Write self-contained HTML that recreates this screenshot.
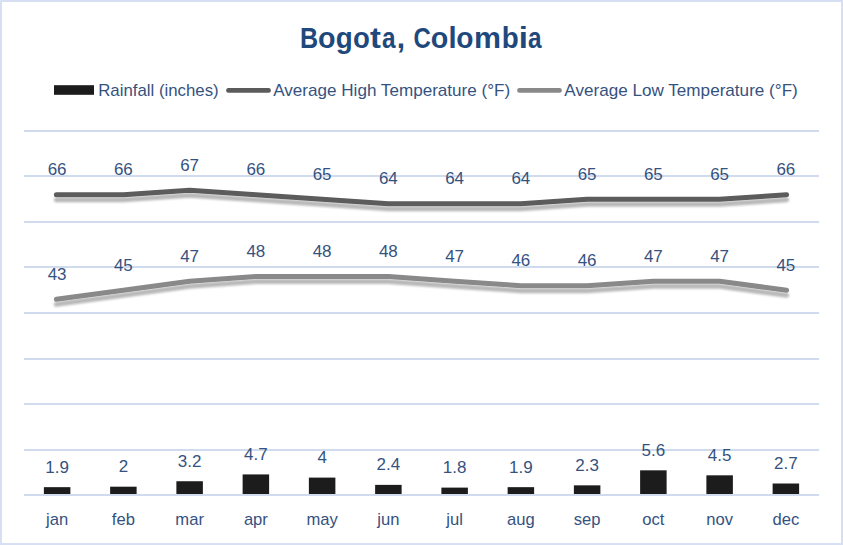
<!DOCTYPE html>
<html><head><meta charset="utf-8"><style>
html,body{margin:0;padding:0;background:#fff;}
body{width:843px;height:545px;overflow:hidden;}
svg{display:block;font-family:"Liberation Sans",sans-serif;}
</style></head><body>
<svg width="843" height="545" viewBox="0 0 843 545">
<defs><filter id="sh" x="-10%" y="-50%" width="120%" height="300%">
<feDropShadow dx="0" dy="5" stdDeviation="1.3" flood-color="#000" flood-opacity="0.28"/></filter></defs>
<rect x="1" y="1" width="841" height="543" fill="#fff" stroke="#d6e0f2" stroke-width="2"/>
<g font-size="16.6" fill="#35527f">
<rect x="24.0" y="130" width="795.0" height="2" fill="#d0dced"/>
<rect x="24.0" y="175" width="795.0" height="2" fill="#d0dced"/>
<rect x="24.0" y="221" width="795.0" height="2" fill="#d0dced"/>
<rect x="24.0" y="266" width="795.0" height="2" fill="#d0dced"/>
<rect x="24.0" y="312" width="795.0" height="2" fill="#d0dced"/>
<rect x="24.0" y="358" width="795.0" height="2" fill="#d0dced"/>
<rect x="24.0" y="403" width="795.0" height="2" fill="#d0dced"/>
<rect x="24.0" y="449" width="795.0" height="2" fill="#d0dced"/>
<rect x="24.0" y="494" width="795.0" height="2" fill="#d0dced"/>
<rect x="43.88" y="487.16" width="26.50" height="6.84" fill="#1c1c1c"/>
<rect x="110.12" y="486.70" width="26.50" height="7.30" fill="#1c1c1c"/>
<rect x="176.38" y="481.24" width="26.50" height="12.76" fill="#1c1c1c"/>
<rect x="242.62" y="474.42" width="26.50" height="19.58" fill="#1c1c1c"/>
<rect x="308.88" y="477.60" width="26.50" height="16.40" fill="#1c1c1c"/>
<rect x="375.12" y="484.88" width="26.50" height="9.12" fill="#1c1c1c"/>
<rect x="441.38" y="487.61" width="26.50" height="6.39" fill="#1c1c1c"/>
<rect x="507.62" y="487.16" width="26.50" height="6.84" fill="#1c1c1c"/>
<rect x="573.88" y="485.34" width="26.50" height="8.66" fill="#1c1c1c"/>
<rect x="640.12" y="470.32" width="26.50" height="23.68" fill="#1c1c1c"/>
<rect x="706.38" y="475.32" width="26.50" height="18.68" fill="#1c1c1c"/>
<rect x="772.62" y="483.51" width="26.50" height="10.49" fill="#1c1c1c"/>
<polyline points="56.38,194.70 123.38,194.70 189.62,190.15 255.88,194.70 322.12,199.25 388.38,203.80 454.62,203.80 520.88,203.80 587.12,199.25 653.38,199.25 719.62,199.25 786.62,194.70" fill="none" stroke="#5b5b5b" stroke-width="5" stroke-linejoin="round" stroke-linecap="round" filter="url(#sh)"/>
<polyline points="56.38,299.35 123.38,290.25 189.62,281.15 255.88,276.60 322.12,276.60 388.38,276.60 454.62,281.15 520.88,285.70 587.12,285.70 653.38,281.15 719.62,281.15 786.62,290.25" fill="none" stroke="#898989" stroke-width="5" stroke-linejoin="round" stroke-linecap="round" filter="url(#sh)"/>
<text x="57.12" y="175.10" text-anchor="middle" font-size="17">66</text>
<text x="123.38" y="175.10" text-anchor="middle" font-size="17">66</text>
<text x="189.62" y="170.55" text-anchor="middle" font-size="17">67</text>
<text x="255.88" y="175.10" text-anchor="middle" font-size="17">66</text>
<text x="322.12" y="179.65" text-anchor="middle" font-size="17">65</text>
<text x="388.38" y="184.20" text-anchor="middle" font-size="17">64</text>
<text x="454.62" y="184.20" text-anchor="middle" font-size="17">64</text>
<text x="520.88" y="184.20" text-anchor="middle" font-size="17">64</text>
<text x="587.12" y="179.65" text-anchor="middle" font-size="17">65</text>
<text x="653.38" y="179.65" text-anchor="middle" font-size="17">65</text>
<text x="719.62" y="179.65" text-anchor="middle" font-size="17">65</text>
<text x="785.88" y="175.10" text-anchor="middle" font-size="17">66</text>
<text x="57.12" y="279.75" text-anchor="middle" font-size="17">43</text>
<text x="123.38" y="270.65" text-anchor="middle" font-size="17">45</text>
<text x="189.62" y="261.55" text-anchor="middle" font-size="17">47</text>
<text x="255.88" y="257.00" text-anchor="middle" font-size="17">48</text>
<text x="322.12" y="257.00" text-anchor="middle" font-size="17">48</text>
<text x="388.38" y="257.00" text-anchor="middle" font-size="17">48</text>
<text x="454.62" y="261.55" text-anchor="middle" font-size="17">47</text>
<text x="520.88" y="266.10" text-anchor="middle" font-size="17">46</text>
<text x="587.12" y="266.10" text-anchor="middle" font-size="17">46</text>
<text x="653.38" y="261.55" text-anchor="middle" font-size="17">47</text>
<text x="719.62" y="261.55" text-anchor="middle" font-size="17">47</text>
<text x="785.88" y="270.65" text-anchor="middle" font-size="17">45</text>
<text x="57.12" y="472.66" text-anchor="middle" font-size="17">1.9</text>
<text x="123.38" y="472.20" text-anchor="middle" font-size="17">2</text>
<text x="189.62" y="466.74" text-anchor="middle" font-size="17">3.2</text>
<text x="255.88" y="459.92" text-anchor="middle" font-size="17">4.7</text>
<text x="322.12" y="463.10" text-anchor="middle" font-size="17">4</text>
<text x="388.38" y="470.38" text-anchor="middle" font-size="17">2.4</text>
<text x="454.62" y="473.11" text-anchor="middle" font-size="17">1.8</text>
<text x="520.88" y="472.66" text-anchor="middle" font-size="17">1.9</text>
<text x="587.12" y="470.84" text-anchor="middle" font-size="17">2.3</text>
<text x="653.38" y="455.82" text-anchor="middle" font-size="17">5.6</text>
<text x="719.62" y="460.82" text-anchor="middle" font-size="17">4.5</text>
<text x="785.88" y="469.01" text-anchor="middle" font-size="17">2.7</text>
<text x="57.12" y="525" text-anchor="middle">jan</text>
<text x="123.38" y="525" text-anchor="middle">feb</text>
<text x="189.62" y="525" text-anchor="middle">mar</text>
<text x="255.88" y="525" text-anchor="middle">apr</text>
<text x="322.12" y="525" text-anchor="middle">may</text>
<text x="388.38" y="525" text-anchor="middle">jun</text>
<text x="454.62" y="525" text-anchor="middle">jul</text>
<text x="520.88" y="525" text-anchor="middle">aug</text>
<text x="587.12" y="525" text-anchor="middle">sep</text>
<text x="653.38" y="525" text-anchor="middle">oct</text>
<text x="719.62" y="525" text-anchor="middle">nov</text>
<text x="785.88" y="525" text-anchor="middle">dec</text>
<rect x="54" y="85.2" width="40" height="9.6" fill="#1c1c1c"/>
<text x="98.2" y="95.5" textLength="120.5" lengthAdjust="spacingAndGlyphs">Rainfall (inches)</text>
<line x1="228.5" y1="90.4" x2="268.5" y2="90.4" stroke="#5b5b5b" stroke-width="4.8" stroke-linecap="round"/>
<text x="273.2" y="95.5" textLength="237" lengthAdjust="spacingAndGlyphs">Average High Temperature (°F)</text>
<line x1="519.5" y1="90.4" x2="559.5" y2="90.4" stroke="#898989" stroke-width="4.8" stroke-linecap="round"/>
<text x="564.3" y="95.5" textLength="233.5" lengthAdjust="spacingAndGlyphs">Average Low Temperature (°F)</text>
<g font-weight="bold" font-size="30" fill="#1F497D"><text transform="translate(299.92,48.2) scale(0.836,1)">B</text><text transform="translate(318.08,48.2) scale(0.957,1)">o</text><text transform="translate(335.66,48.2) scale(0.928,1)">g</text><text transform="translate(353.12,48.2) scale(0.920,1)">o</text><text transform="translate(370.10,48.2) scale(1.091,1)">t</text><text transform="translate(381.89,48.2) scale(0.813,1)">a</text><text transform="translate(396.82,48.2) scale(1.000,1)">,</text><text transform="translate(413.57,48.2) scale(0.800,1)">C</text><text transform="translate(430.78,48.2) scale(0.957,1)">o</text><text transform="translate(448.46,48.2) scale(0.972,1)">l</text><text transform="translate(456.30,48.2) scale(0.939,1)">o</text><text transform="translate(474.00,48.2) scale(1.012,1)">m</text><text transform="translate(501.67,48.2) scale(0.926,1)">b</text><text transform="translate(518.83,48.2) scale(1.100,1)">i</text><text transform="translate(527.89,48.2) scale(0.813,1)">a</text></g>
</g>
</svg>
</body></html>
